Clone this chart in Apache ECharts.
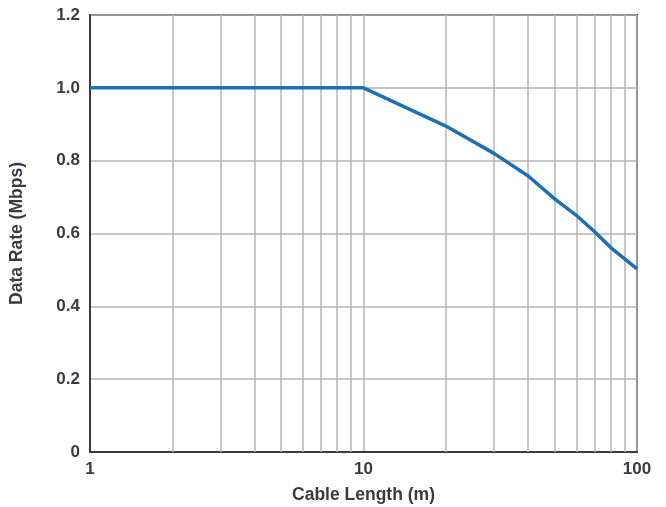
<!DOCTYPE html>
<html><head><meta charset="utf-8">
<script src="https://cdn.jsdelivr.net/npm/echarts@6/dist/echarts.min.js"></script>
<style>html,body{margin:0;padding:0;background:#fff}#c{width:666px;height:507px}</style>
</head><body><div id="c"></div>
<script>
const cableLength = [1, 10, 20, 30, 40, 50, 60, 70, 80, 100];
const dataRate = [1.0, 1.0, 0.895, 0.82, 0.758, 0.695, 0.65, 0.605, 0.562, 0.503];
const minorGridX = [2,3,4,5,6,7,8,9,20,30,40,50,60,70,80,90];
const xTickLabels = [1, 10, 100];

const txt = '#3a3a42';
const font = '"Liberation Sans", Arial, sans-serif';
const chart = echarts.init(document.getElementById('c'));
chart.setOption({
  animation: false,
  grid: {left: 90, right: 29, top: 15, bottom: 55, outerBoundsMode: 'none', containLabel: false,
    show: true, borderColor: '#3a3a42', borderWidth: 2, backgroundColor: 'transparent'},
  xAxis: {
    type: 'log', logBase: 10, min: 1, max: 100,
    name: 'Cable Length (m)', nameLocation: 'middle', nameGap: 34,
    nameTextStyle: {color: txt, fontSize: 17.5, fontWeight: 'bold', fontFamily: font},
    axisLine: {show: true, lineStyle: {color: '#3a3a42', width: 2}},
    axisTick: {show: false},
    axisLabel: {color: txt, fontSize: 17, fontWeight: 'bold', fontFamily: font, margin: 9,
      formatter: v => xTickLabels.includes(Math.round(v)) ? String(Math.round(v)) : ''},
    splitLine: {show: true, lineStyle: {color: '#b4b4b8', width: 1.5}},
    minorTick: {show: false}, minorSplitLine: {show: false}
  },
  yAxis: {
    type: 'value', min: 0, max: 1.2, interval: 0.2,
    name: 'Data Rate (Mbps)', nameLocation: 'middle', nameGap: 64,
    nameTextStyle: {color: txt, fontSize: 17.5, fontWeight: 'bold', fontFamily: font},
    axisLine: {show: true, lineStyle: {color: '#3a3a42', width: 2}},
    axisTick: {show: false},
    axisLabel: {color: txt, fontSize: 17, fontWeight: 'bold', fontFamily: font, margin: 10,
      formatter: v => v === 0 ? '0' : v.toFixed(1)},
    splitLine: {show: true, lineStyle: {color: '#b4b4b8', width: 1.5}}
  },
  series: [{
    type: 'line',
    data: cableLength.map((x, i) => [x, dataRate[i]]),
    showSymbol: false,
    lineStyle: {color: '#1f6fb4', width: 3.5},
    z: 5,
    markLine: {
      silent: true, symbol: 'none', label: {show: false},
      lineStyle: {color: '#b4b4b8', width: 1.5, type: 'solid'},
      data: minorGridX.map(x => ({xAxis: x}))
    }
  }]
});
</script></body></html>
